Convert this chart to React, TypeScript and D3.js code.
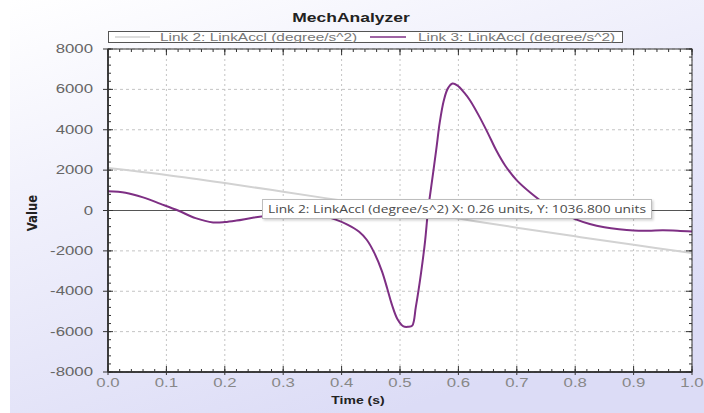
import React from "react";
import * as d3 from "d3";

// Link 2 angular acceleration (degree/s^2) over time (s)
const link2Time = [0, 0.1, 0.2, 0.3, 0.4, 0.5, 0.6, 0.7, 0.8, 0.9, 1.0];
const link2Accel = [2100, 1760, 1360, 930, 490, 50, -400, -850, -1280, -1700, -2100];

// Link 3 angular acceleration (degree/s^2) over time (s)
const link3Time = [
  0, 0.03, 0.06, 0.09, 0.12, 0.15, 0.18, 0.2, 0.22, 0.25, 0.28, 0.31, 0.34, 0.37, 0.39,
  0.41, 0.43, 0.443, 0.456, 0.469, 0.478, 0.486, 0.496, 0.506, 0.514, 0.521, 0.527,
  0.536, 0.543, 0.548, 0.555, 0.562, 0.568, 0.575, 0.582, 0.59, 0.598, 0.61, 0.62,
  0.635, 0.65, 0.665, 0.68, 0.7, 0.725, 0.75, 0.78, 0.8, 0.825, 0.85, 0.875, 0.9, 0.925,
  0.95, 0.975, 1.0,
];
const link3Accel = [
  950, 880, 650, 330, 0, -380, -590, -575, -500, -350, -240, -180, -190, -300, -450,
  -700, -1050, -1450, -2100, -3000, -3850, -4650, -5400, -5740, -5760, -5700, -4800,
  -3100, -1500, 0, 1500, 3000, 4350, 5450, 6050, 6290, 6200, 5840, 5450,
  4700, 3860, 2970, 2230, 1490, 840, 300, -150, -430, -670, -830, -930, -990, -1000,
  -980, -1000, -1040,
];

const xTickValues = [0, 0.1, 0.2, 0.3, 0.4, 0.5, 0.6, 0.7, 0.8, 0.9, 1.0];
const xTickLabels = ["0.0", "0.1", "0.2", "0.3", "0.4", "0.5", "0.6", "0.7", "0.8", "0.9", "1.0"];
const yTickValues = [-8000, -6000, -4000, -2000, 0, 2000, 4000, 6000, 8000];
const yTickLabels = ["-8000", "-6000", "-4000", "-2000", "0", "2000", "4000", "6000", "8000"];

const seriesNames = ["Link 2: LinkAccl (degree/s^2)", "Link 3: LinkAccl (degree/s^2)"];
const seriesColors = ["#d2d2d2", "#7e2f84"];
const tooltipText = "Link 2: LinkAccl (degree/s^2) X: 0.26 units, Y: 1036.800 units";

const W = 704;
const H = 413;
const M = { left: 108, right: 692, top: 49, bottom: 372 };
const SX = 1.4; // horizontal stretch of the rendered text
const FONT = "'Liberation Sans', Arial, sans-serif";

function SText(props: {
  x: number;
  y: number;
  size: number;
  anchor?: string;
  weight?: string | number;
  fill?: string;
  children: React.ReactNode;
}) {
  const { x, y, size, anchor = "start", weight = "normal", fill = "#555" } = props;
  return (
    <text
      transform={`translate(${x},${y}) scale(${SX},1)`}
      fontSize={size}
      fontFamily={FONT}
      fontWeight={weight}
      textAnchor={anchor}
      fill={fill}
    >
      {props.children}
    </text>
  );
}

export default function App() {
  const x = d3.scaleLinear().domain([0, 1]).range([M.left, M.right]);
  const y = d3.scaleLinear().domain([-8000, 8000]).range([M.bottom, M.top]);

  const line = d3
    .line<[number, number]>()
    .x((d) => x(d[0]))
    .y((d) => y(d[1]))
    .curve(d3.curveCatmullRom.alpha(0.5));

  const link2Path = line(link2Time.map((t, i) => [t, link2Accel[i]]) as [number, number][]) || "";
  const link3Path = line(link3Time.map((t, i) => [t, link3Accel[i]]) as [number, number][]) || "";

  const xMinor = d3.range(0, 1.0001, 0.02);
  const yMinor = d3.range(-8000, 8001, 400);

  const axisColor = "#333";

  return (
    <svg
      width={W}
      height={H}
      style={{ position: "absolute", left: 0, top: 0, display: "block" }}
    >
      <defs>
        <linearGradient id="bgGrad" x1="0" y1="0" x2="0.55" y2="1">
          <stop offset="0" stopColor="#ffffff" />
          <stop offset="0.35" stopColor="#f2f2fc" />
          <stop offset="1" stopColor="#dcdcf6" />
        </linearGradient>
        <clipPath id="plotClip">
          <rect x={M.left} y={M.top} width={M.right - M.left} height={M.bottom - M.top} />
        </clipPath>
        <filter id="tipShadow" x="-5%" y="-30%" width="110%" height="180%">
          <feDropShadow dx="1.5" dy="1.5" stdDeviation="1" floodColor="#000" floodOpacity="0.18" />
        </filter>
      </defs>

      <rect x={0} y={0} width={W} height={H} fill="#ffffff" />
      <rect x={10} y={0} width={W - 10} height={H} fill="url(#bgGrad)" />
      <rect x={M.left} y={M.top} width={M.right - M.left} height={M.bottom - M.top} fill="#ffffff" />

      {/* grid */}
      {xTickValues.map((v, i) => (
        <line
          key={`gx${i}`}
          x1={x(v)}
          x2={x(v)}
          y1={M.top}
          y2={M.bottom}
          stroke="#c4c4c4"
          strokeWidth={1}
          strokeDasharray="2,3"
        />
      ))}
      {yTickValues.map((v, i) => (
        <line
          key={`gy${i}`}
          x1={M.left}
          x2={M.right}
          y1={y(v)}
          y2={y(v)}
          stroke="#c4c4c4"
          strokeWidth={1}
          strokeDasharray="3,3"
        />
      ))}

      {/* zero line */}
      <line x1={M.left} x2={M.right} y1={y(0)} y2={y(0)} stroke="#555" strokeWidth={1.2} />

      {/* series */}
      <g clipPath="url(#plotClip)">
        <path d={link2Path} fill="none" stroke={seriesColors[0]} strokeWidth={2} />
        <path d={link3Path} fill="none" stroke={seriesColors[1]} strokeWidth={2} strokeLinejoin="round" />
      </g>

      {/* frame */}
      <rect
        x={M.left}
        y={M.top}
        width={M.right - M.left}
        height={M.bottom - M.top}
        fill="none"
        stroke={axisColor}
        strokeWidth={1}
      />
      <line x1={M.left} x2={M.left} y1={M.top} y2={M.bottom} stroke="#222" strokeWidth={1.5} />
      <line x1={M.left} x2={M.right} y1={M.bottom} y2={M.bottom} stroke="#222" strokeWidth={1.5} />

      {/* minor ticks */}
      {xMinor.map((v, i) => (
        <g key={`xm${i}`} stroke={axisColor} strokeWidth={1}>
          <line x1={x(v)} x2={x(v)} y1={M.bottom} y2={M.bottom - 3} />
          <line x1={x(v)} x2={x(v)} y1={M.top} y2={M.top + 3} />
        </g>
      ))}
      {yMinor.map((v, i) => (
        <g key={`ym${i}`} stroke={axisColor} strokeWidth={1}>
          <line x1={M.left} x2={M.left + 3} y1={y(v)} y2={y(v)} />
          <line x1={M.right} x2={M.right - 3} y1={y(v)} y2={y(v)} />
        </g>
      ))}
      {/* major ticks */}
      {xTickValues.map((v, i) => (
        <g key={`xM${i}`} stroke={axisColor} strokeWidth={1}>
          <line x1={x(v)} x2={x(v)} y1={M.bottom + 3} y2={M.bottom - 6} />
          <line x1={x(v)} x2={x(v)} y1={M.top} y2={M.top + 6} />
        </g>
      ))}
      {yTickValues.map((v, i) => (
        <g key={`yM${i}`} stroke={axisColor} strokeWidth={1}>
          <line x1={M.left - 5} x2={M.left + 5} y1={y(v)} y2={y(v)} />
          <line x1={M.right} x2={M.right - 6} y1={y(v)} y2={y(v)} />
        </g>
      ))}

      {/* tick labels */}
      {yTickValues.map((v, i) => (
        <SText key={`yl${i}`} x={93} y={y(v) + 4} size={12} anchor="end" fill="#666">
          {yTickLabels[i]}
        </SText>
      ))}
      {xTickValues.map((v, i) => (
        <SText key={`xl${i}`} x={x(v)} y={387} size={12} anchor="middle" fill="#888">
          {xTickLabels[i]}
        </SText>
      ))}

      {/* axis titles */}
      <SText x={358} y={404} size={10} anchor="middle" weight="bold" fill="#222">
        Time (s)
      </SText>
      <text
        transform={`translate(37,213) scale(1.15,1) rotate(-90)`}
        fontSize={13}
        fontFamily="'DejaVu Sans Condensed', 'Liberation Sans Narrow', Arial, sans-serif"
        fontWeight="bold"
        textAnchor="middle"
        fill="#222"
      >
        Value
      </text>

      {/* title */}
      <SText x={351} y={22} size={12.5} anchor="middle" weight="bold" fill="#222">
        MechAnalyzer
      </SText>

      {/* legend */}
      <rect x={108.5} y={31.5} width={514} height={11} fill="#ffffff" stroke="#555" strokeWidth={1} />
      <line x1={115} x2={150} y1={37} y2={37} stroke={seriesColors[0]} strokeWidth={1.5} />
      <SText x={160} y={41} size={11} fill="#777">
        {seriesNames[0]}
      </SText>
      <line x1={370} x2={406} y1={37} y2={37} stroke={seriesColors[1]} strokeWidth={1.5} />
      <SText x={418} y={41} size={11} fill="#777">
        {seriesNames[1]}
      </SText>

      {/* hover tooltip */}
      <g filter="url(#tipShadow)">
        <rect x={262.5} y={199.5} width={389} height={19} fill="#ffffff" stroke="#bdbdbd" strokeWidth={1} />
      </g>
      <text
        x={268}
        y={213}
        fontSize={11.5}
        fontFamily="'Open Sans', 'Noto Sans', sans-serif"
        fill="#4a4a4a"
        textLength={378}
        lengthAdjust="spacingAndGlyphs"
      >
        {tooltipText}
      </text>
    </svg>
  );
}
